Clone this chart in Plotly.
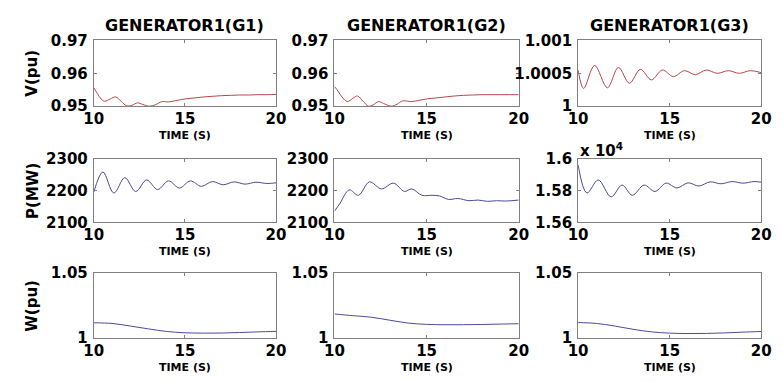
import plotly.graph_objects as go

FONT = "DejaVu Sans"
W, H = 783, 381

# ---------------- data ----------------
titles = ["GENERATOR1(G1)", "GENERATOR1(G2)", "GENERATOR1(G3)"]
row_labels = ["V(pu)", "P(MW)", "W(pu)"]
x_ticks = [10, 15, 20]

# Voltage (pu)
t_v_g1 = [10, 10.2, 10.4, 10.6, 10.9, 11.2, 11.5, 11.8, 12.1, 12.4, 12.7, 13.05, 13.4,
          13.75, 14.1, 14.5, 15.0, 15.5, 16.0, 16.5, 17.0, 17.5, 18.0, 18.5, 19.0, 19.5, 20.0]
v_g1 = [0.9556, 0.9538, 0.9522, 0.9515, 0.9522, 0.9528, 0.9515, 0.9501, 0.9503, 0.9510,
        0.9505, 0.9500, 0.9505, 0.9514, 0.9513, 0.9517, 0.9522, 0.9525, 0.9528, 0.9530,
        0.9532, 0.9533, 0.9534, 0.9534, 0.9535, 0.9535, 0.9536]

t_v_g2 = [10, 10.2, 10.45, 10.7, 11.0, 11.25, 11.55, 11.85, 12.1, 12.4, 12.75, 13.1, 13.4,
          13.7, 14.2, 14.6, 15.0, 15.5, 16.0, 16.5, 17.0, 17.5, 18.0, 18.5, 19.0, 19.5, 20.0]
v_g2 = [0.9560, 0.9545, 0.9525, 0.9514, 0.9524, 0.9531, 0.9515, 0.9500, 0.9504, 0.9514,
        0.9506, 0.9500, 0.9506, 0.9516, 0.9514, 0.9518, 0.9522, 0.9525, 0.9528, 0.9531,
        0.9533, 0.9534, 0.9535, 0.9535, 0.9535, 0.9535, 0.9535]

t_v_g3 = [10, 10.3, 10.9, 11.6, 12.2, 12.8, 13.4, 14.0, 14.6, 15.2, 15.8, 16.4, 17.0,
          17.6, 18.2, 18.8, 19.4, 20.0]
v_g3 = [1.00055, 1.00027, 1.00062, 1.00028, 1.00059, 1.00035, 1.00056, 1.00040, 1.00055,
        1.00045, 1.00054, 1.00048, 1.00055, 1.00050, 1.00054, 1.00050, 1.00054, 1.00051]

# Active power (MW)
t_p_g1 = [10, 10.5, 11.1, 11.7, 12.3, 12.9, 13.5, 14.1, 14.7, 15.3, 15.9, 16.5, 17.1,
          17.7, 18.3, 18.9, 19.5, 20.0]
p_g1 = [2195, 2258, 2192, 2240, 2197, 2233, 2203, 2230, 2208, 2230, 2213, 2228, 2218,
        2227, 2220, 2226, 2222, 2224]

t_p_g2 = [10, 10.3, 10.8, 11.3, 11.9, 12.55, 13.2, 13.8, 14.2, 14.75, 15.3, 15.7, 16.2,
          16.7, 17.3, 17.8, 18.3, 18.8, 19.3, 20.0]
p_g2 = [2135, 2160, 2202, 2185, 2227, 2205, 2223, 2197, 2205, 2185, 2185, 2183, 2172,
        2175, 2168, 2170, 2166, 2168, 2167, 2170]

t_p_g3 = [10, 10.48, 11.1, 11.8, 12.4, 12.96, 13.6, 14.2, 14.8, 15.4, 16.0, 16.6, 17.2,
          17.8, 18.4, 19.0, 19.6, 20.0]
p_g3 = [15960, 15784, 15866, 15760, 15834, 15770, 15834, 15794, 15846, 15816, 15848, 15828,
        15854, 15842, 15856, 15846, 15856, 15852]

# Speed (pu)
t_w = [10, 11, 12, 13, 14, 15, 16, 17, 18, 19, 20]
w_g1 = [1.0115, 1.0110, 1.0090, 1.0068, 1.0048, 1.0038, 1.0035, 1.0036, 1.0040, 1.0045, 1.0049]
w_g2 = [1.0183, 1.0170, 1.0158, 1.0135, 1.0113, 1.0103, 1.0100, 1.0100, 1.0102, 1.0105, 1.0108]
w_g3 = [1.0117, 1.0110, 1.0090, 1.0065, 1.0045, 1.0035, 1.0032, 1.0033, 1.0037, 1.0043, 1.0048]

# y-axis setups per panel: (range, tickvals, ticktext)
y_setups = [
    [([0.95, 0.97], [0.95, 0.96, 0.97], ["0.95", "0.96", "0.97"]),
     ([0.95, 0.97], [0.95, 0.96, 0.97], ["0.95", "0.96", "0.97"]),
     ([1.0, 1.001], [1.0, 1.0005, 1.001], ["1", "1.0005", "1.001"])],
    [([2100, 2300], [2100, 2200, 2300], ["2100", "2200", "2300"]),
     ([2100, 2300], [2100, 2200, 2300], ["2100", "2200", "2300"]),
     ([15600, 16000], [15600, 15800, 16000], ["1.56", "1.58", "1.6"])],
    [([1.0, 1.05], [1.0, 1.05], ["1", "1.05"]),
     ([1.0, 1.05], [1.0, 1.05], ["1", "1.05"]),
     ([1.0, 1.05], [1.0, 1.05], ["1", "1.05"])],
]

series = [
    [(t_v_g1, v_g1), (t_v_g2, v_g2), (t_v_g3, v_g3)],
    [(t_p_g1, p_g1), (t_p_g2, p_g2), (t_p_g3, p_g3)],
    [(t_w, w_g1), (t_w, w_g2), (t_w, w_g3)],
]
row_colors = ["rgb(185,70,75)", "rgb(75,75,150)", "rgb(75,75,150)"]

# ---------------- layout geometry (pixels) ----------------
cols_px = [(86, 273), (333, 522), (583, 771)]
rows_px = [(33, 102), (157, 224), (277, 345)]


def px_x(p):
    return p / W


def px_y(p):
    return 1 - p / H


fig = go.Figure()
layout = dict(
    width=W, height=H,
    margin=dict(l=0, r=0, t=0, b=0),
    paper_bgcolor="white", plot_bgcolor="white",
    showlegend=False,
    font=dict(family=FONT, color="black"),
)

tickfont = dict(family=FONT, size=15, color="black", weight="bold")
annotations = []
k = 0
for r in range(3):
    for c in range(3):
        k += 1
        xa = "xaxis" if k == 1 else f"xaxis{k}"
        ya = "yaxis" if k == 1 else f"yaxis{k}"
        xref = "x" if k == 1 else f"x{k}"
        yref = "y" if k == 1 else f"y{k}"
        x0, x1 = cols_px[c]
        y0, y1 = rows_px[r]
        rng, tv, tt = y_setups[r][c]
        layout[xa] = dict(
            domain=[px_x(x0), px_x(x1)], anchor=yref, range=[10, 20],
            tickvals=x_ticks, ticktext=[str(v) for v in x_ticks],
            showline=True, linecolor="rgb(128,128,128)", linewidth=1, mirror="ticks",
            ticks="inside", ticklen=3, tickcolor="rgb(128,128,128)",
            showgrid=False, zeroline=False, tickfont=tickfont,
            ticklabelstandoff=-1,
        )
        layout[ya] = dict(
            domain=[px_y(y1), px_y(y0)], anchor=xref, range=rng,
            tickvals=tv, ticktext=tt,
            showline=True, linecolor="rgb(128,128,128)", linewidth=1, mirror="ticks",
            ticks="inside", ticklen=3, tickcolor="rgb(128,128,128)",
            showgrid=False, zeroline=False, tickfont=tickfont,
            ticklabelstandoff=2,
        )
        tx, ty = series[r][c]
        fig.add_trace(go.Scatter(
            x=tx, y=ty, mode="lines", xaxis=xref, yaxis=yref,
            line=dict(color=row_colors[r], width=1, shape="spline", smoothing=1.0),
            hoverinfo="skip",
        ))
        # TIME (S) label
        annotations.append(dict(
            text="TIME (S)", xref="paper", yref="paper",
            x=px_x((x0 + x1) / 2), y=px_y(y1 + 31), showarrow=False,
            xanchor="center", yanchor="middle",
            font=dict(family=FONT, size=11, color="black", weight="bold"),
        ))

# column titles
for c in range(3):
    x0, x1 = cols_px[c]
    annotations.append(dict(
        text=titles[c], xref="paper", yref="paper",
        x=px_x((x0 + x1) / 2), y=px_y(17), showarrow=False,
        xanchor="center", yanchor="middle",
        font=dict(family=FONT, size=16, color="black", weight="bold"),
    ))

# row labels
for r in range(3):
    y0, y1 = rows_px[r]
    annotations.append(dict(
        text=row_labels[r], xref="paper", yref="paper",
        x=px_x(23), y=px_y((y0 + y1) / 2), showarrow=False, textangle=-90,
        xanchor="center", yanchor="middle",
        font=dict(family=FONT, size=15, color="black", weight="bold"),
    ))

# exponent label for G3 power
annotations.append(dict(
    text="x 10<sup>4</sup>", xref="paper", yref="paper",
    x=px_x(583), y=px_y(148), showarrow=False,
    xanchor="left", yanchor="middle",
    font=dict(family=FONT, size=15, color="black", weight="bold"),
))

layout["annotations"] = annotations
fig.update_layout(**layout)
fig.write_html("out.html")
